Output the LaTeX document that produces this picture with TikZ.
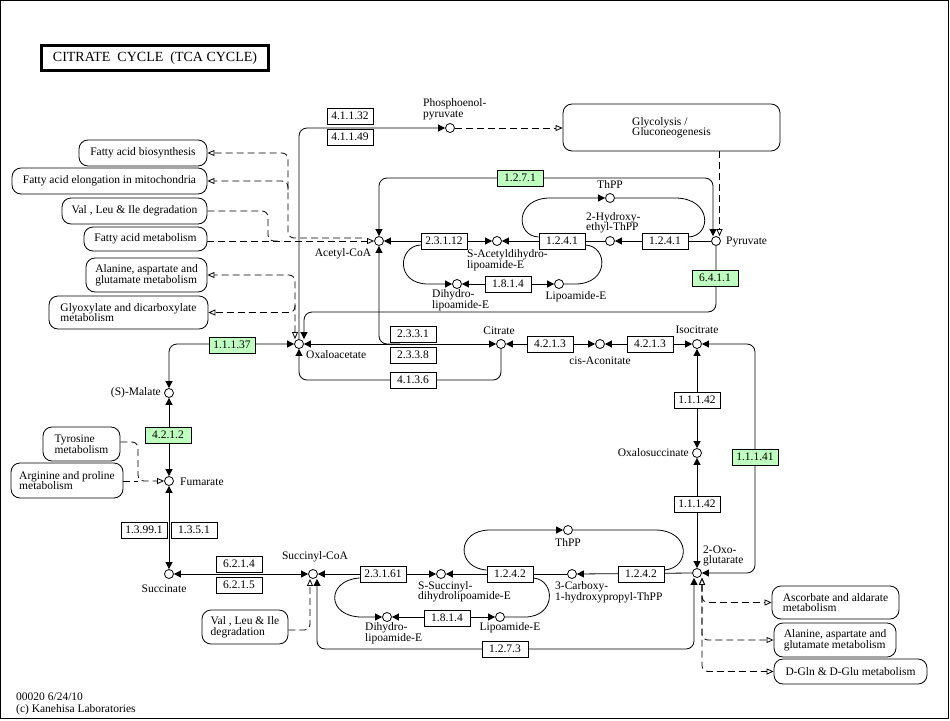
\documentclass[tikz,border=0pt]{standalone}
\usepackage{fontspec}
\setmainfont{Liberation Serif}
\usetikzlibrary{arrows.meta,backgrounds,calc}
\definecolor{kgreen}{RGB}{191,255,191}
\newcommand{\kfont}{\fontsize{11.5}{10.5}\selectfont}
\tikzset{
 cpd/.style={circle, draw, fill=white, minimum size=9pt, inner sep=0pt, line width=0.8pt},
 enz/.style={draw, fill=white, minimum width=46pt, minimum height=16pt, inner sep=0pt, font=\kfont, line width=0.8pt},
 genz/.style={enz, fill=kgreen},
 mapbox/.style={draw, fill=white, rounded corners=9pt, inner sep=0pt, align=left, font=\kfont, line width=0.8pt},
 lbl/.style={inner sep=0pt, font=\kfont, align=left},
 conn/.style={line width=0.8pt},
 fa/.style={conn, -{Triangle[length=7pt,width=7pt]}},
 fb/.style={conn, {Triangle[length=7pt,width=7pt]}-{Triangle[length=7pt,width=7pt]}},
 dsh/.style={conn, dash pattern=on 7pt off 4pt},
 oa/.style={dsh, -{Triangle[open,length=7pt,width=6pt,fill=white]}},
 ob/.style={dsh, {Triangle[open,length=7pt,width=6pt,fill=white]}-{Triangle[open,length=7pt,width=6pt,fill=white]}},
}
\begin{document}
\begin{tikzpicture}[x=1pt,y=-1pt]
\useasboundingbox (0,0) rectangle (950,720);
\draw[line width=1.3pt] (0.7,0.7) rectangle (948.3,718.6);

% title
\node[draw, line width=2.6pt, minimum width=227pt, minimum height=25pt, inner sep=0pt, font=\fontsize{14}{16}\selectfont] (title) at (155,58) {CITRATE\ \ CYCLE\ \ (TCA CYCLE)};

% map boxes
\node[mapbox, minimum width=128pt, minimum height=26pt] (mFAB) at (143,153) {Fatty acid biosynthesis};
\node[mapbox, minimum width=195pt, minimum height=26pt] (mFAE) at (109.5,181) {Fatty acid elongation in mitochondria};
\node[mapbox, minimum width=145pt, minimum height=26pt] (mVLI) at (134.5,211) {Val , Leu \& Ile degradation};
\node[mapbox, minimum width=123pt, minimum height=24pt] (mFAM) at (145.5,239) {Fatty acid metabolism};
\node[mapbox, minimum width=121pt, minimum height=34pt] (mAla1) at (146.5,275) {Alanine, aspartate and\\glutamate metabolism};
\node[mapbox, minimum width=159pt, minimum height=33pt] (mGly) at (128.5,312.5) {Glyoxylate and dicarboxylate\\metabolism};
\node[mapbox, minimum width=217pt, minimum height=47pt] (mGlyc) at (671.5,127.5) {Glycolysis /\\Gluconeogenesis};
\node[mapbox, minimum width=77pt, minimum height=34pt] (mTyr) at (81.5,444) {Tyrosine\\metabolism};
\node[mapbox, minimum width=112pt, minimum height=35pt] (mArg) at (67,480.5) {Arginine and proline\\metabolism};
\node[mapbox, minimum width=86pt, minimum height=34pt] (mVLI2) at (245,627) {Val , Leu \& Ile\\degradation};
\node[mapbox, minimum width=127pt, minimum height=33pt] (mAsc) at (835.5,602.5) {Ascorbate and aldarate\\metabolism};
\node[mapbox, minimum width=122pt, minimum height=34pt] (mAla2) at (835,640) {Alanine, aspartate and\\glutamate metabolism};
\node[mapbox, minimum width=153pt, minimum height=25pt] (mDGln) at (850.5,671.5) {D-Gln \& D-Glu metabolism};

% compounds
\node[cpd] (pep) at (450,128) {};
\node[cpd] (acoa) at (379,241) {};
\node[cpd] (sacet) at (497,241) {};
\node[cpd] (hethpp) at (610,241) {};
\node[cpd] (pyr) at (716,241) {};
\node[cpd] (thpp1) at (610,198) {};
\node[cpd] (dhl1) at (457,284) {};
\node[cpd] (lip1) at (559,284) {};
\node[cpd] (oaa) at (299,344) {};
\node[cpd] (cit) at (501,344) {};
\node[cpd] (cisac) at (600,344) {};
\node[cpd] (iso) at (697,344) {};
\node[cpd] (oxs) at (697,453) {};
\node[cpd] (ogl) at (697,573) {};
\node[cpd] (mal) at (169,393) {};
\node[cpd] (fum) at (169,481) {};
\node[cpd] (suc) at (169,574) {};
\node[cpd] (scoa) at (313,574) {};
\node[cpd] (ssuc) at (441,574) {};
\node[cpd] (carb) at (572,574) {};
\node[cpd] (thpp2) at (568,530) {};
\node[cpd] (dhl2) at (387,617) {};
\node[cpd] (lip2) at (500,617) {};

% enzymes
\node[enz] (e41132) at (350,116) {4.1.1.32};
\node[enz] (e41149) at (350,137) {4.1.1.49};
\node[genz] (e1271) at (520,178) {1.2.7.1};
\node[enz] (e23112) at (444,241) {2.3.1.12};
\node[enz] (e1241a) at (562,241) {1.2.4.1};
\node[enz] (e1241b) at (665,241) {1.2.4.1};
\node[enz] (e1814a) at (508,284) {1.8.1.4};
\node[genz] (e6411) at (715,278) {6.4.1.1};
\node[enz] (e2331) at (413,334) {2.3.3.1};
\node[enz] (e2338) at (413,355) {2.3.3.8};
\node[enz] (e4136) at (413,380) {4.1.3.6};
\node[enz] (e4213a) at (550,344) {4.2.1.3};
\node[enz] (e4213b) at (650,344) {4.2.1.3};
\node[enz] (e11142a) at (697,400) {1.1.1.42};
\node[enz] (e11142b) at (697,504) {1.1.1.42};
\node[genz] (e11141) at (755,457) {1.1.1.41};
\node[genz] (e11137) at (232,345) {1.1.1.37};
\node[genz] (e4212) at (168,435) {4.2.1.2};
\node[enz] (e13991) at (144,530) {1.3.99.1};
\node[enz] (e1351) at (194,530) {1.3.5.1};
\node[enz] (e6214) at (239,564) {6.2.1.4};
\node[enz] (e6215) at (239,585) {6.2.1.5};
\node[enz] (e23161) at (383,574) {2.3.1.61};
\node[enz] (e1242a) at (510,574) {1.2.4.2};
\node[enz] (e1242b) at (641,574) {1.2.4.2};
\node[enz] (e1814b) at (447,618) {1.8.1.4};
\node[enz] (e1273) at (505,649) {1.2.7.3};

% labels
\node[lbl, anchor=west] (lpep) at (423,109.5) {Phosphoenol-\\pyruvate};
\node[lbl] (lacoa) at (343,254) {Acetyl-CoA};
\node[lbl, anchor=west] (lsacet) at (467,260) {S-Acetyldihydro-\\lipoamide-E};
\node[lbl, anchor=west] (lheth) at (586,222.5) {2-Hydroxy-\\ethyl-ThPP};
\node[lbl] (lthpp1) at (610,185) {ThPP};
\node[lbl, anchor=west] (lpyr) at (726,242) {Pyruvate};
\node[lbl, anchor=west] (ldhl1) at (432,300) {Dihydro-\\lipoamide-E};
\node[lbl] (llip1) at (576,297) {Lipoamide-E};
\node[lbl, anchor=west] (loaa) at (306,355) {Oxaloacetate};
\node[lbl] (lcit) at (499,331) {Citrate};
\node[lbl] (lcisac) at (600,361) {cis-Aconitate};
\node[lbl] (liso) at (697,330) {Isocitrate};
\node[lbl, anchor=east] (loxs) at (689,453) {Oxalosuccinate};
\node[lbl, anchor=west] (logl) at (703,556) {2-Oxo-\\glutarate};
\node[lbl, anchor=east] (lmal) at (161,393) {(S)-Malate};
\node[lbl, anchor=west] (lfum) at (180,482) {Fumarate};
\node[lbl] (lsuc) at (164,589) {Succinate};
\node[lbl] (lscoa) at (315,557) {Succinyl-CoA};
\node[lbl, anchor=west] (lssuc) at (418,591.5) {S-Succinyl-\\dihydrolipoamide-E};
\node[lbl, anchor=west] (lcarb) at (555,592) {3-Carboxy-\\1-hydroxypropyl-ThPP};
\node[lbl] (lthpp2) at (568,543) {ThPP};
\node[lbl, anchor=west] (ldhl2) at (365,633) {Dihydro-\\lipoamide-E};
\node[lbl] (llip2) at (510,628) {Lipoamide-E};
\node[lbl, anchor=west] (foot1) at (16,697) {00020 6/24/10};
\node[lbl, anchor=west] (foot2) at (16,710) {(c) Kanehisa Laboratories};

% helper coordinates
\coordinate (pyrL) at ($(pyr.north)+(-3,0)$);
\coordinate (pyrR) at ($(pyr.north)+(3.5,0)$);
\coordinate (oaaL) at ($(oaa.north)+(-4,0)$);
\coordinate (oaaR) at ($(oaa.north)+(5,0)$);
\coordinate (scoaL) at ($(scoa.south)+(-3,0)$);
\coordinate (scoaR) at ($(scoa.south)+(4,0)$);
\coordinate (oglL) at ($(ogl.south)+(-3,0)$);
\coordinate (oglR) at ($(ogl.south)+(5,0)$);
\coordinate (k6411) at (500,312);
\coordinate (k2331) at (400,344);
\coordinate (kfa0) at (362,238);
\coordinate (kfa) at (288,153);
\coordinate (kfe) at (288,190);
\coordinate (kvli) at (268,241);
\coordinate (kvli2) at (282,241);
\coordinate (kgly) at (295,305);
\coordinate (ktyr) at (138,481);

\begin{pgfonlayer}{background}
% PEP
\draw[fa, rounded corners=8pt] (oaa.north) |- (pep.west);
\draw[oa] (pep.east) -- (pep.east -| mGlyc.west);
\draw[oa] (pyrR |- mGlyc.south) -- (pyrR);
% 1.2.7.1
\draw[fb, rounded corners=8pt] (pyrL) |- (e1271.center) -| (acoa.north);
% 6.4.1.1
\draw[fa, rounded corners=8pt] (pyr.south) |- (k6411) -| (oaaR);
% top row
\draw[fb] (acoa.east) -- (sacet.west);
\draw[fa] (hethpp.west) -- (sacet.east);
\draw[fa] (pyr.west) -- (hethpp.east);
\draw[fa] ([yshift=4pt]e1241a.west) .. controls (515,236) and (515,198) .. (550,198) -- (thpp1.west);
\draw[conn] (thpp1.east) -- (675,198) .. controls (712,198) and (712,236) .. ([yshift=4pt]e1241b.east);
\draw[fa] ([yshift=-4pt]e23112.west) .. controls (398,246) and (395,284) .. (428,284) -- (dhl1.west);
\draw[fb] (dhl1.east) -- (lip1.west);
\draw[conn] (lip1.east) -- (575,284) .. controls (610,284) and (608,246) .. ([yshift=-4pt]e1241a.east);
% citrate
\draw[fa, rounded corners=8pt] (k2331) -| (acoa.south);
\draw[fb] (oaa.east) -- (cit.west);
\draw[fa, rounded corners=8pt] (cit.south) |- (e4136.center) -| (oaa.south);
\draw[fb] (cit.east) -- (cisac.west);
\draw[fb] (cisac.east) -- (iso.west);
\draw[fb, rounded corners=8pt] (iso.east) -| (e11141.center) |- (ogl.east);
\draw[fb] (iso.south) -- (oxs.north);
\draw[fb] (oxs.south) -- (ogl.north);
% left column
\draw[fb, rounded corners=8pt] (oaa.west) -| (mal.north);
\draw[fb] (mal.south) -- (fum.north);
\draw[fb] (fum.south) -- (suc.north);
% bottom row
\draw[fb] (suc.east) -- (scoa.west);
\draw[fb] (scoa.east) -- (ssuc.west);
\draw[fa] (carb.west) -- (ssuc.east);
\draw[fa] (ogl.west) -- (carb.east);
\draw[fa] ([yshift=4pt]e1242a.west) .. controls (456,568) and (456,530) .. (490,530) -- (thpp2.west);
\draw[conn] (thpp2.east) -- (655,530) .. controls (691,530) and (691,568) .. ([yshift=4pt]e1242b.east);
\draw[fa] ([yshift=-4pt]e23161.west) .. controls (326,580) and (326,617) .. (362,617) -- (dhl2.west);
\draw[fb] (dhl2.east) -- (lip2.west);
\draw[conn] (lip2.east) -- (525,617) .. controls (556,617) and (556,580) .. ([yshift=-4pt]e1242a.east);
\draw[fb, rounded corners=8pt] (scoaR) |- (e1273.center) -| (oglL);
% dashed map links
\draw[oa, rounded corners=6pt] ([yshift=-3pt]mVLI2.east) -| (scoaL);
\draw[ob, rounded corners=6pt] (oglR) |- (mAsc.west);
\draw[ob, rounded corners=6pt] (oglR) |- (mAla2.west);
\draw[ob, rounded corners=6pt] (oglR) |- (mDGln.west);
\draw[oa, rounded corners=6pt] ([yshift=2pt]mTyr.east) -| (ktyr) -- (fum.west);
\draw[dsh] (mArg.east |- fum) -- (ktyr);
\draw[oa, rounded corners=6pt] (kfa0) -| (kfa) -- (mFAB.east);
\draw[oa, rounded corners=6pt] (kfe) |- (mFAE.east);
\draw[oa] (mFAM.east |- acoa) -- (acoa.west);
\draw[dsh, rounded corners=6pt] (mVLI.east) -| (kvli) -- (kvli2);
\draw[ob, rounded corners=6pt] (oaaL) |- (mAla1.east);
\draw[oa, rounded corners=6pt] (kgly) |- (mGly.east);
\end{pgfonlayer}
\end{tikzpicture}
\end{document}
